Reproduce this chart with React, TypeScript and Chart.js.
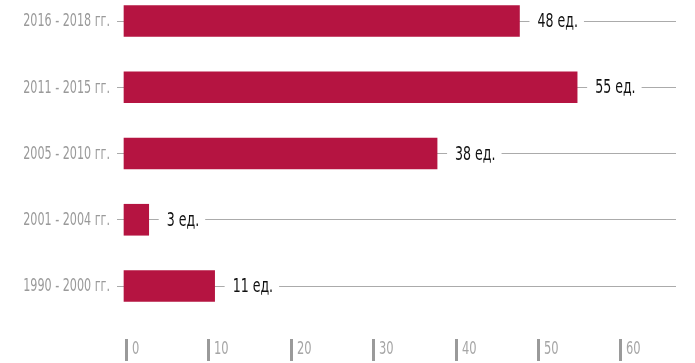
import React, { useEffect, useRef } from "react";
import { Chart, registerables } from "chart.js";

Chart.register(...registerables);

const categories = ["2016 - 2018 гг.", "2011 - 2015 гг.", "2005 - 2010 гг.", "2001 - 2004 гг.", "1990 - 2000 гг."];
const values = [48, 55, 38, 3, 11];
const valueLabels = ["48 ед.", "55 ед.", "38 ед.", "3 ед.", "11 ед."];
const xTicks = [0, 10, 20, 30, 40, 50, 60];

const FONT = '"DejaVu Sans Condensed", "Liberation Sans Narrow", sans-serif';
const BAR = "#b51441";
const GRID = "#ababab";
const GRAY = "#9a9a9a";

function drawNarrow(ctx: any, text: string, x: number, y: number, sx: number, align: "left" | "right") {
  const w = ctx.measureText(text).width * sx;
  ctx.save();
  ctx.translate(align === "left" ? x : x - w, y);
  ctx.scale(sx, 1);
  ctx.textAlign = "left";
  ctx.fillText(text, 0, 0);
  ctx.restore();
  return w;
}

const overlay = {
  id: "overlay",
  afterDatasetsDraw(chart: any) {
    const ctx = chart.ctx;
    const meta = chart.getDatasetMeta(0);
    const ys = chart.scales.y;
    ctx.save();
    ctx.textBaseline = "middle";

    // category labels
    ctx.font = `17px ${FONT}`;
    ctx.fillStyle = GRAY;
    categories.forEach((c, i) => {
      const py = ys.getPixelForValue(i);
      drawNarrow(ctx, c, 110, py + 1, 0.73, "right");
    });

    // value labels
    ctx.font = `20px ${FONT}`;
    meta.data.forEach((el: any, i: number) => {
      const txt = valueLabels[i];
      const tx = el.x + 18;
      const w = ctx.measureText(txt).width * 0.7;
      ctx.fillStyle = "#ffffff";
      ctx.fillRect(tx - 8, el.y - 4, w + 14, 8);
      ctx.fillStyle = "#111111";
      drawNarrow(ctx, txt, tx, el.y + 1, 0.7, "left");
    });

    // x axis tick marks & labels
    const xs = chart.scales.x;
    ctx.font = `17px ${FONT}`;
    xTicks.forEach((t) => {
      const px = Math.round(xs.getPixelForValue(t));
      ctx.fillStyle = GRAY;
      ctx.fillRect(px + 1, 339, 3, 22);
      ctx.fillStyle = "#a6a6a6";
      drawNarrow(ctx, String(t), px + 8, 350, 0.75, "left");
    });
    ctx.restore();
  },
};

export default function App() {
  const ref = useRef<HTMLCanvasElement>(null);
  useEffect(() => {
    document.body.style.margin = "0";
    const chart = new Chart(ref.current as HTMLCanvasElement, {
      type: "bar",
      data: {
        labels: categories,
        datasets: [
          {
            data: values,
            backgroundColor: BAR,
            borderWidth: 0,
            barThickness: 31,
            clip: false as any,
          },
        ],
      },
      options: {
        indexAxis: "y",
        animation: false,
        responsive: false,
        layout: { padding: { top: 21, bottom: 77, right: 19, left: 0 } },
        plugins: { legend: { display: false }, tooltip: { enabled: false } },
        scales: {
          x: {
            display: false,
            min: 0,
            max: 67,
          },
          y: {
            offset: false,
            border: { display: false },
            grid: { offset: false, color: GRID, lineWidth: 1, drawTicks: true, tickLength: 7 },
            ticks: { display: false },
            afterFit: (s: any) => {
              s.width = 124;
            },
          },
        },
      },
      plugins: [overlay],
    });
    return () => chart.destroy();
  }, []);
  return (
    <div style={{ width: 695, height: 363 }}>
      <canvas ref={ref} width={695} height={363} />
    </div>
  );
}
